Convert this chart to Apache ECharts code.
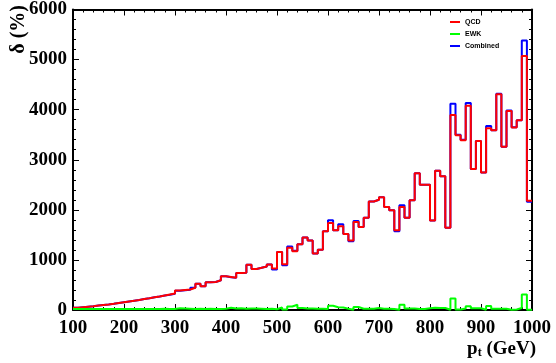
<!DOCTYPE html>
<html>
<head>
<meta charset="utf-8">
<script src="https://cdn.jsdelivr.net/npm/echarts@6/dist/echarts.min.js"></script>
<style>
  html, body { margin: 0; padding: 0; background: #ffffff; }
  #chart { width: 556px; height: 363px; }
</style>
</head>
<body>
<div id="chart"></div>
<script>
// Histogram binning in p_t (GeV): 90 bins of 10 GeV from 100 to 1000
const xMin = 100;
const xMax = 1000;
const binWidth = 10;

// Relative uncertainty delta (%) per bin
const qcd = [
  45, 55, 65, 75, 88, 100, 112, 125, 140, 155,
  170, 185, 200, 218, 235, 255, 270, 290, 310, 330,
  390, 400, 410, 445, 525, 475, 555, 560, 595, 675,
  660, 645, 740, 745, 905, 820, 845, 870, 910, 830,
  1160, 915, 1245, 1175, 1315, 1450, 1390, 1130, 1205, 1570,
  1735, 1590, 1670, 1515, 1390, 1755, 1655, 1840, 2165, 2200,
  2250, 2055, 1990, 1590, 2055, 1840, 2190, 2730, 2500, 2500,
  1785, 2780, 2670, 1640, 3895, 3490, 3390, 4080, 2815, 3375,
  2745, 3630, 3590, 4310, 3260, 3975, 3645, 3790, 5070, 2180
];

const ewk = [
  20, 18, 20, 18, 20, 18, 20, 22, 18, 20,
  22, 20, 18, 22, 20, 22, 18, 25, 22, 20,
  35, 30, 25, 20, 25, 22, 25, 20, 22, 25,
  45, 30, 35, 25, 30, 28, 25, 22, 25, 15,
  50, 10, 70, 105, 40, 30, 30, 25, 25, 20,
  85, 55, 50, 25, 5, 60, 25, 25, 25, 40,
  25, 25, 20, 5, 105, 30, 30, 20, 20, 35,
  45, 40, 40, 5, 230, 10, 30, 75, 35, 35,
  5, 80, 25, 25, 25, 5, 10, 40, 310, 5
];

const combined = [
  45, 55, 65, 75, 88, 100, 112, 125, 140, 155,
  170, 185, 200, 218, 235, 255, 270, 290, 305, 325,
  385, 395, 405, 445, 525, 475, 555, 560, 595, 675,
  655, 645, 740, 745, 905, 820, 845, 870, 910, 810,
  1160, 895, 1270, 1185, 1315, 1450, 1390, 1130, 1205, 1570,
  1790, 1590, 1710, 1515, 1375, 1775, 1655, 1840, 2165, 2200,
  2250, 2055, 1990, 1570, 2090, 1840, 2190, 2730, 2500, 2500,
  1785, 2780, 2670, 1640, 4120, 3500, 3400, 4135, 2815, 3375,
  2745, 3675, 3590, 4320, 3260, 3985, 3650, 3790, 5380, 2160
];

// Turn per-bin contents into step-line points at bin edges
function histPoints(values) {
  const pts = values.map((v, i) => [xMin + i * binWidth, v]);
  pts.push([xMax, values[values.length - 1]]);
  return pts;
}

const labelFont = {
  color: '#000',
  fontFamily: 'Liberation Serif',
  fontWeight: 'bold',
  fontSize: 19,
  formatter: (v) => String(v)
};

function frameAxis(position, isX, showLabels) {
  return {
    type: 'value',
    position: position,
    min: isX ? xMin : 0,
    max: isX ? xMax : 6000,
    interval: isX ? 100 : 1000,
    axisLine: { show: true, onZero: false, lineStyle: { color: '#000', width: 2 } },
    axisTick: { show: true, inside: true, length: 6, lineStyle: { color: '#000', width: 1 } },
    minorTick: { show: true, splitNumber: 5, length: 3, lineStyle: { color: '#000', width: 1 } },
    splitLine: { show: false },
    minorSplitLine: { show: false },
    axisLabel: showLabels ? Object.assign({ margin: isX ? 9 : 6 }, labelFont) : { show: false }
  };
}

const chart = echarts.init(document.getElementById('chart'), null, { renderer: 'canvas' });

chart.setOption({
  animation: false,
  backgroundColor: '#ffffff',
  grid: { left: 73, right: 24, top: 8, bottom: 53, containLabel: false },
  xAxis: [frameAxis('bottom', true, true), frameAxis('top', true, false)],
  yAxis: [frameAxis('left', false, true), frameAxis('right', false, false)],
  legend: {
    orient: 'vertical',
    left: 450,
    top: 18,
    padding: 0,
    itemWidth: 10,
    itemHeight: 2,
    itemGap: 4,
    icon: 'rect',
    data: ['QCD', 'EWK', 'Combined'],
    textStyle: {
      color: '#000',
      fontFamily: 'Liberation Sans',
      fontWeight: 'bold',
      fontSize: 7,
      lineHeight: 8
    }
  },
  series: [
    {
      name: 'Combined',
      type: 'line',
      step: 'end',
      xAxisIndex: 0,
      yAxisIndex: 0,
      showSymbol: false,
      color: '#0000ff',
      lineStyle: { color: '#0000ff', width: 2 },
      data: histPoints(combined),
      z: 2
    },
    {
      name: 'QCD',
      type: 'line',
      step: 'end',
      xAxisIndex: 0,
      yAxisIndex: 0,
      showSymbol: false,
      color: '#ff0000',
      lineStyle: { color: '#ff0000', width: 2 },
      data: histPoints(qcd),
      z: 3
    },
    {
      name: 'EWK',
      type: 'line',
      step: 'end',
      xAxisIndex: 0,
      yAxisIndex: 0,
      showSymbol: false,
      color: '#00ff00',
      lineStyle: { color: '#00ff00', width: 2 },
      data: histPoints(ewk),
      z: 4
    }
  ],
  graphic: [
    {
      type: 'text',
      x: 29,
      y: 5,
      rotation: Math.PI / 2,
      style: {
        text: 'δ (%)',
        fill: '#000',
        fontFamily: 'Liberation Serif',
        fontWeight: 'bold',
        fontSize: 20,
        align: 'right',
        verticalAlign: 'bottom'
      }
    },
    {
      type: 'text',
      x: 536,
      y: 339,
      style: {
        text: '{a|p}{b|t}{a| (GeV)}',
        fill: '#000',
        align: 'right',
        verticalAlign: 'top',
        rich: {
          a: { fill: '#000', fontFamily: 'Liberation Serif', fontWeight: 'bold', fontSize: 19, lineHeight: 20 },
          b: { fill: '#000', fontFamily: 'Liberation Serif', fontWeight: 'bold', fontSize: 12, lineHeight: 8, verticalAlign: 'bottom' }
        }
      }
    }
  ]
});
</script>
</body>
</html>
